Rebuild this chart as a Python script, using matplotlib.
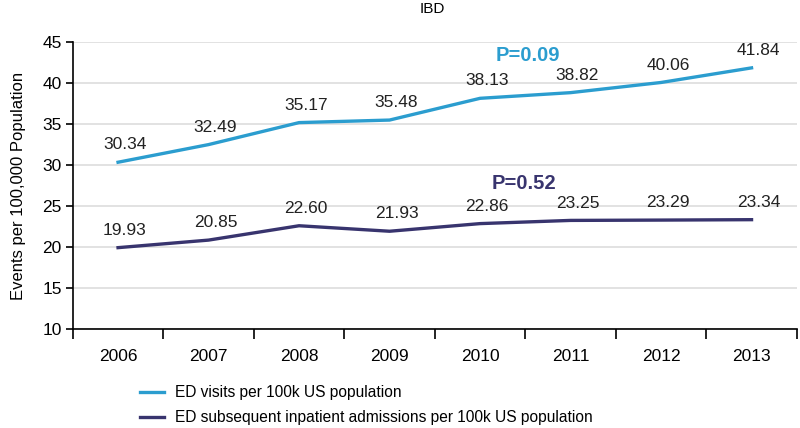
import numpy as np
import matplotlib.pyplot as plt

plt.rcParams['font.family'] = ['Liberation Sans', 'DejaVu Sans']

# data
years = ['2006', '2007', '2008', '2009', '2010', '2011', '2012', '2013']
ed_visits = [30.34, 32.49, 35.17, 35.48, 38.13, 38.82, 40.06, 41.84]
ed_admits = [19.93, 20.85, 22.60, 21.93, 22.86, 23.25, 23.29, 23.34]

cyan = '#2b9dcf'
purple = '#38346e'

fig = plt.figure(figsize=(8, 4.28), dpi=100)
ax = fig.add_axes([0.091, 0.231, 0.905, 0.671])

x = np.arange(len(years))
ax.plot(x, ed_visits, color=cyan, lw=2.4, solid_joinstyle='round',
        label='ED visits per 100k US population')
ax.plot(x, ed_admits, color=purple, lw=2.4, solid_joinstyle='round',
        label='ED subsequent inpatient admissions per 100k US population')

# value labels above each point
for xi, v in zip(x, ed_visits):
    ax.annotate('%.2f' % v, (xi, v), xytext=(5, 12.5), textcoords='offset points',
                ha='center', va='center', fontsize=12.5, color='#222222')
for xi, v in zip(x, ed_admits):
    ax.annotate('%.2f' % v, (xi, v), xytext=(5, 12.5), textcoords='offset points',
                ha='center', va='center', fontsize=12.5, color='#222222')

ax.text(4.53, 43.3, 'P=0.09', color=cyan, fontsize=14.5, fontweight='bold',
        ha='center', va='center')
ax.text(4.49, 27.7, 'P=0.52', color=purple, fontsize=14.5, fontweight='bold',
        ha='center', va='center')

ax.set_xlim(-0.5, 7.5)
ax.set_ylim(10, 45)
ax.set_yticks(np.arange(10, 46, 5))
ax.yaxis.grid(True, color='#dddddd', lw=1.2)
ax.set_axisbelow(True)

# years sit between boundary ticks
ax.set_xticks(np.arange(-0.5, 8, 1))
ax.set_xticklabels([])
ax.set_xticks(x, minor=True)
ax.set_xticklabels(years, minor=True, fontsize=12.5)
ax.tick_params(axis='x', which='minor', length=0, pad=14)
ax.tick_params(axis='x', which='major', length=7, width=1.2, direction='out')
ax.tick_params(axis='y', labelsize=12.5, length=5, width=1.2, pad=3)

for s in ['top', 'right']:
    ax.spines[s].set_visible(False)
for s in ['left', 'bottom']:
    ax.spines[s].set_linewidth(1.2)

ax.set_ylabel('Events per 100,000 Population', fontsize=12, labelpad=12)
fig.text(0.541, 0.978, 'IBD', fontsize=11, ha='center', va='center')

fig.legend(loc='center left', bbox_to_anchor=(0.158, 0.053), frameon=False,
           fontsize=11.2, handlelength=1.5, handletextpad=0.75, labelspacing=0.65)

fig.savefig('out.png', dpi=100)
